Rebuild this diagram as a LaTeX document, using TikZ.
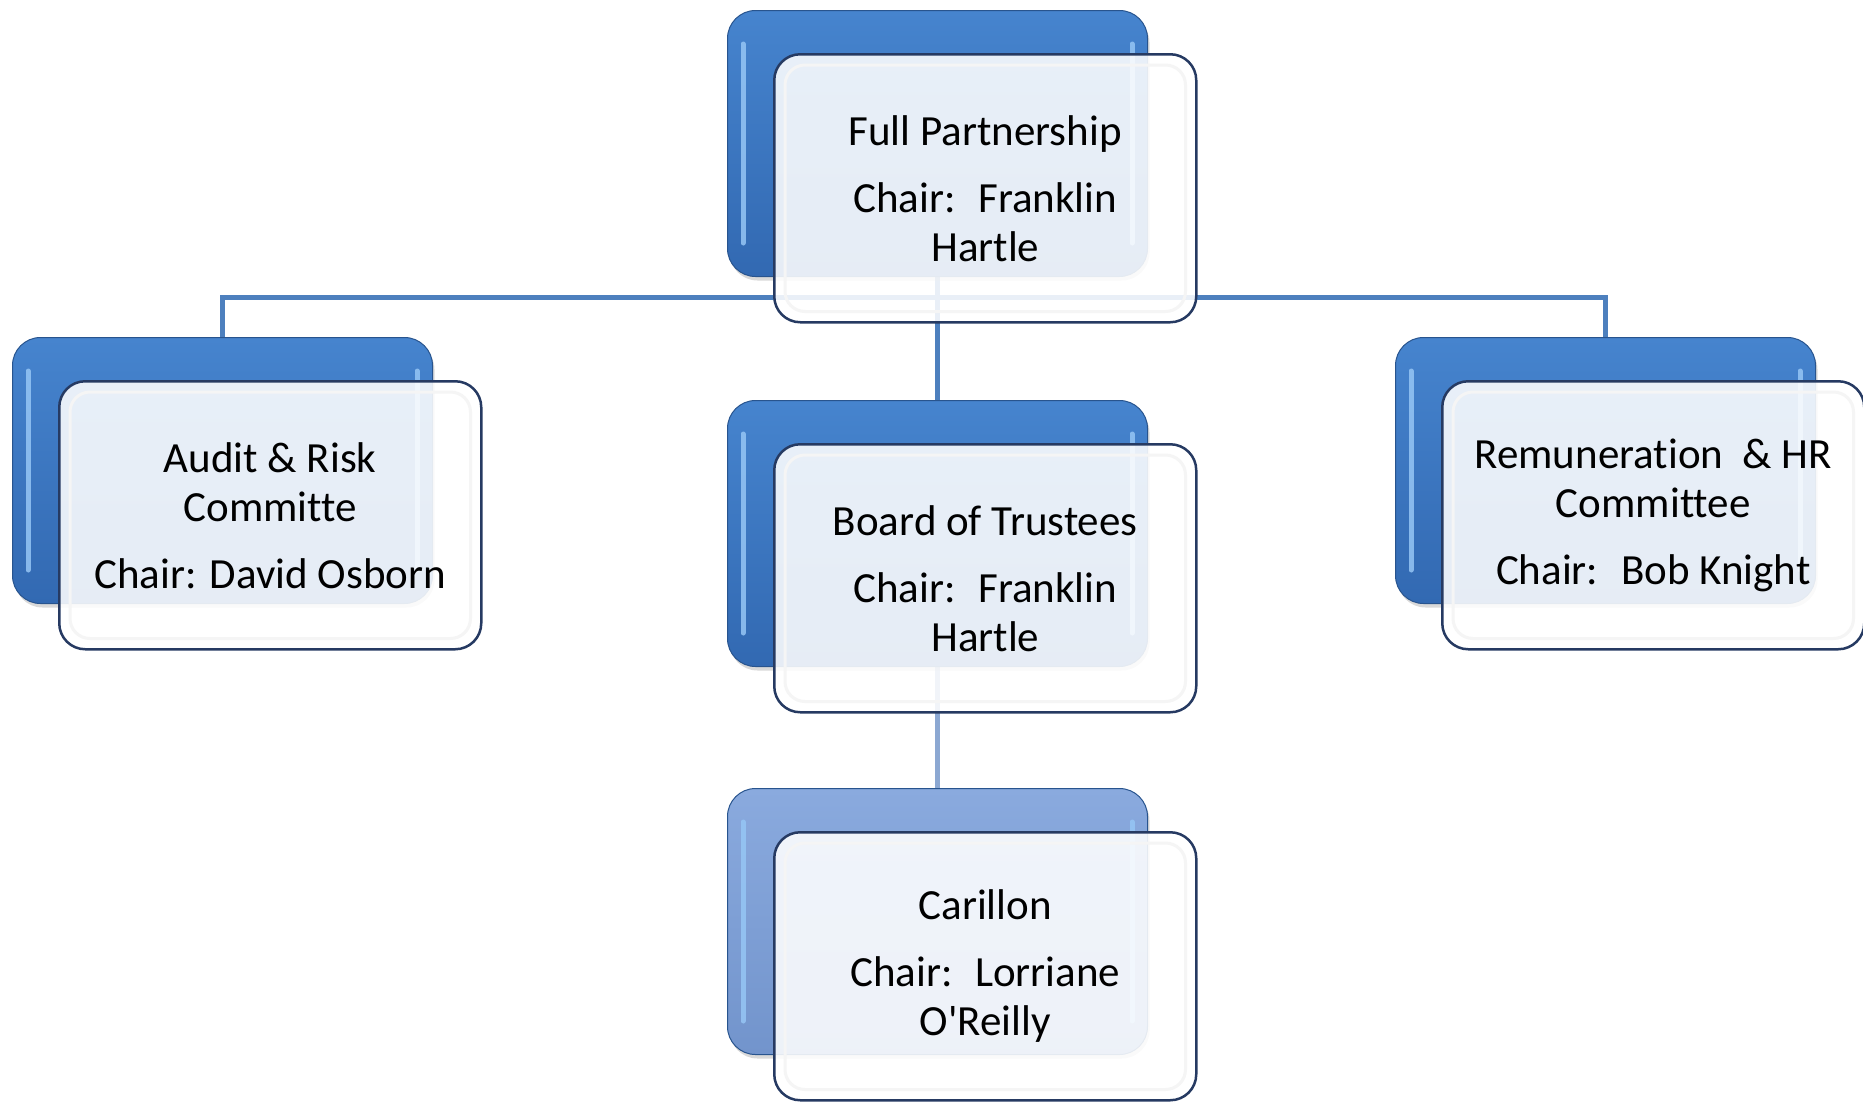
\documentclass[tikz,border=0pt]{standalone}
\usepackage{fontspec}
\setmainfont{Carlito}[Ligatures=NoCommon]
\usetikzlibrary{shadows}
\pgfdeclarelayer{bg}
\pgfsetlayers{bg,main}
\definecolor{btop}{RGB}{70,132,206}
\definecolor{bbot}{RGB}{50,105,178}
\definecolor{ltop}{RGB}{138,170,222}
\definecolor{lbot}{RGB}{114,148,204}
\definecolor{hil}{RGB}{150,198,245}
\definecolor{edge}{RGB}{38,58,98}
\definecolor{conncol}{RGB}{77,128,190}
\definecolor{connlite}{RGB}{140,168,210}
\tikzset{
  backbox/.style={anchor=north west, rectangle, rounded corners=28pt, minimum width=420pt,
    minimum height=266pt, inner sep=0pt, draw=bbot!80!black, line width=1pt,
    drop shadow={opacity=0.3, shadow xshift=2pt, shadow yshift=-4pt}},
  frontbox/.style={anchor=north west, rectangle, rounded corners=26pt, minimum width=422pt,
    minimum height=268pt, inner sep=0pt, draw=edge, line width=2.5pt, fill=white,
    fill opacity=0.88, text opacity=1, align=center,
    font=\fontsize{43pt}{49pt}\selectfont},
  innerhl/.style={draw=black!4, line width=3pt, rounded corners=20pt},
  hilite/.style={draw=hil, line width=5pt, line cap=round, draw opacity=0.85},
  conn/.style={draw=conncol, line width=5pt},
  connl/.style={draw=connlite, line width=5pt}
}
\newcommand\orgbox[6]{%
  \node[backbox, top color=#4, bottom color=#5] (#1B) at (#2,#3) {};
  \draw[hilite] ([xshift=16pt,yshift=-34pt]#1B.north west) -- ([xshift=16pt,yshift=34pt]#1B.south west);
  \draw[hilite] ([xshift=-16pt,yshift=-34pt]#1B.north east) -- ([xshift=-16pt,yshift=34pt]#1B.south east);
  \node[frontbox] (#1) at (#2+46,#3+43) {#6};
  \draw[innerhl] ([xshift=12pt,yshift=-12pt]#1.north west) rectangle ([xshift=-12pt,yshift=12pt]#1.south east);
}
\begin{document}
\begin{tikzpicture}[x=1pt,y=-1pt]
\useasboundingbox (0,0) rectangle (1863,1101);
\orgbox{fp}{727}{10}{btop}{bbot}{Full Partnership\\[18pt]Chair:~ Franklin\\Hartle}
\orgbox{audit}{12}{337}{btop}{bbot}{Audit \& Risk\\Committe\\[18pt]Chair: David Osborn}
\orgbox{board}{727}{400}{btop}{bbot}{Board of Trustees\\[18pt]Chair:~ Franklin\\Hartle}
\orgbox{rem}{1395}{337}{btop}{bbot}{Remuneration~ \& HR\\Committee\\[18pt]Chair:~ Bob Knight}
\orgbox{car}{727}{788}{ltop}{lbot}{Carillon\\[18pt]Chair:~ Lorriane\\O\textquotesingle Reilly}
\coordinate (hub) at (937,297);
\begin{pgfonlayer}{bg}
\draw[conn] (auditB.north) -- (auditB.north |- hub) -- (remB.north |- hub) -- (remB.north);
\draw[conn] (fpB.center) -- (boardB.north);
\draw[connl] (boardB.center) -- (carB.north);
\end{pgfonlayer}
\end{tikzpicture}
\end{document}
